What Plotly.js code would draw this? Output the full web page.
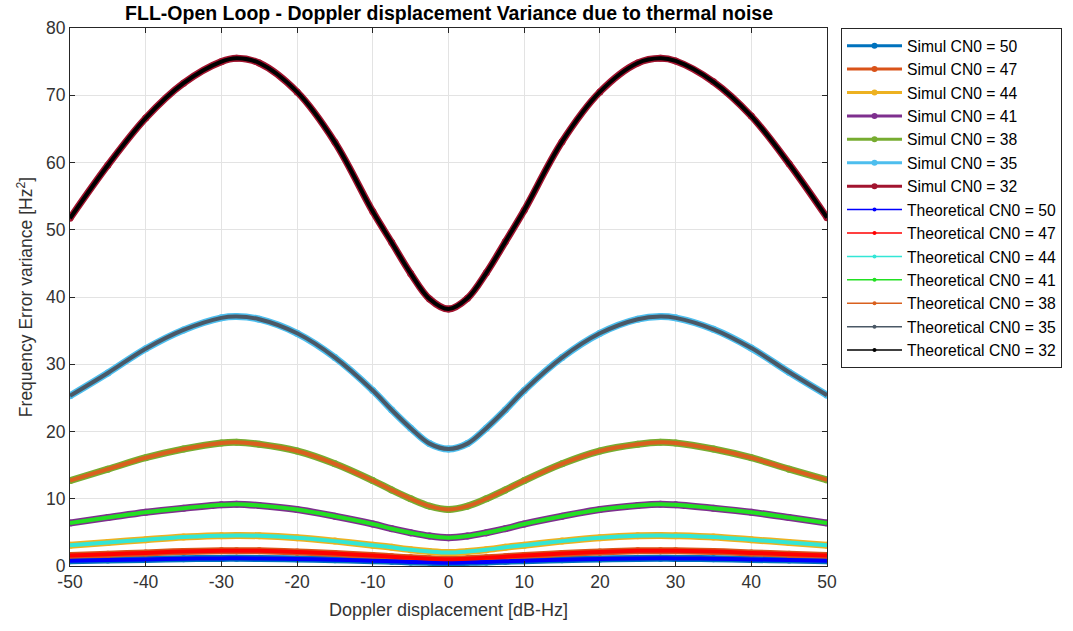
<!DOCTYPE html>
<html>
<head>
<meta charset="utf-8">
<script src="https://cdn.plot.ly/plotly-3.0.1.min.js"></script>
<style>html,body{margin:0;padding:0;background:#fff;}#chart{width:1073px;height:631px;}</style>
</head>
<body>
<div id="chart"></div>
<script>
// Doppler displacement [dB-Hz]
const doppler = [-50,-45,-40,-35,-30,-28,-25,-20,-15,-10,-7.5,-5,-2.5,0,2.5,5,7.5,10,15,20,25,28,30,35,40,45,50];
// Frequency error variance [Hz^2], per CN0
const var32 = [51.7,59.6,66.6,71.8,75.0,75.5,74.8,70.5,63.0,52.7,48.1,43.5,39.7,38.2,39.8,43.6,48.2,52.9,63.1,70.5,74.8,75.5,75.1,72.0,66.9,59.8,51.8];
const var35 = [25.3,28.7,32.3,35.1,36.9,37.1,36.7,34.6,31.0,26.1,23.2,20.5,18.2,17.4,18.2,20.5,23.2,26.1,31.0,34.6,36.7,37.1,36.9,35.2,32.4,28.8,25.4];
const var38 = [12.7,14.4,16.1,17.4,18.3,18.4,18.1,17.1,15.2,12.7,11.3,10.0,8.9,8.4,8.9,10.0,11.3,12.7,15.2,17.1,18.1,18.4,18.3,17.4,16.1,14.4,12.8];
const var41 = [6.4,7.2,8.0,8.6,9.1,9.2,9.0,8.4,7.4,6.25,5.55,4.95,4.45,4.2,4.45,4.95,5.55,6.25,7.4,8.4,9.0,9.2,9.1,8.6,8.0,7.2,6.4];
const var44 = [3.1,3.5,3.9,4.3,4.5,4.55,4.5,4.2,3.7,3.1,2.78,2.42,2.15,2.0,2.15,2.42,2.78,3.1,3.7,4.2,4.5,4.55,4.5,4.3,3.9,3.5,3.1];
const var47 = [1.55,1.75,1.95,2.15,2.25,2.28,2.25,2.1,1.85,1.56,1.39,1.21,1.07,1.0,1.07,1.21,1.39,1.56,1.85,2.1,2.25,2.28,2.25,2.15,1.95,1.75,1.55];
const var50 = [0.78,0.88,0.98,1.08,1.13,1.14,1.12,1.05,0.93,0.78,0.7,0.61,0.54,0.5,0.54,0.61,0.7,0.78,0.93,1.05,1.12,1.14,1.13,1.08,0.98,0.88,0.78];

const xTickVals = [-50,-40,-30,-20,-10,0,10,20,30,40,50];
const xTickText = ['-50','-40','-30','-20','-10','0','10','20','30','40','50'];
const yTickVals = [0,10,20,30,40,50,60,70,80];

const cn0 = [50,47,44,41,38,35,32];
const series = [var50,var47,var44,var41,var38,var35,var32];
const simNames = cn0.map(c => 'Simul CN0 = ' + c);
const theoNames = cn0.map(c => 'Theoretical CN0 = ' + c);
const simColors = ['#0072BD','#D95319','#EDB120','#7E2F8E','#77AC30','#4DBEEE','#A2142F'];
const theoColors = ['#0000FF','#FF0000','#33E6D6','#22E022','#D9601E','#4A5866','#000000'];

const traces = [];
series.forEach((s, i) => {
  traces.push({x: doppler, y: s, mode: 'lines+markers', type: 'scatter', showlegend: false,
    line: {color: simColors[i], width: 7, shape: 'spline', smoothing: 1},
    marker: {color: simColors[i], size: 7}, hoverinfo: 'skip'});
});
series.forEach((s, i) => {
  traces.push({x: doppler, y: s, mode: 'lines', type: 'scatter', showlegend: false,
    line: {color: theoColors[i], width: 4, shape: 'spline', smoothing: 1}, hoverinfo: 'skip'});
});
series.forEach((s, i) => {
  traces.push({x: [null], y: [null], mode: 'lines+markers', type: 'scatter', name: simNames[i],
    line: {color: simColors[i], width: 3}, marker: {color: simColors[i], size: 6}});
});
series.forEach((s, i) => {
  traces.push({x: [null], y: [null], mode: 'lines+markers', type: 'scatter', name: theoNames[i],
    line: {color: theoColors[i], width: 1.5}, marker: {color: theoColors[i], size: 4}});
});

const fam = 'Liberation Sans, Arial, sans-serif';
const axisCommon = {
  showgrid: true, gridcolor: '#e3e3e3', gridwidth: 1,
  showline: true, linecolor: '#262626', linewidth: 1, mirror: 'ticks',
  ticks: 'inside', ticklen: 5, tickcolor: '#262626',
  zeroline: false,
  tickfont: {family: fam, size: 17.5, color: '#333333'}
};

const layout = {
  width: 1073, height: 631,
  paper_bgcolor: '#ffffff', plot_bgcolor: '#ffffff',
  margin: {l: 70, r: 246, t: 28, b: 65, autoexpand: false},
  font: {family: fam, color: '#262626'},
  title: {text: '<b>FLL-Open Loop - Doppler displacement Variance due to thermal noise</b>',
    font: {size: 19.5, color: '#000000'}, x: 0.4185, xanchor: 'center', y: 0.99, yanchor: 'top'},
  xaxis: Object.assign({}, axisCommon, {range: [-50, 50], tickmode: 'array', tickvals: xTickVals, ticktext: xTickText,
    title: {text: 'Doppler displacement [dB-Hz]', font: {size: 18, color: '#333333'}, standoff: 12}}),
  yaxis: Object.assign({}, axisCommon, {range: [0, 80], tickmode: 'array', tickvals: yTickVals,
    title: {text: 'Frequency Error variance [Hz<sup>2</sup>]', font: {size: 17.5, color: '#333333'}, standoff: 8}}),
  showlegend: true,
  legend: {x: 1.0185, xanchor: 'left', y: 1, yanchor: 'top', bgcolor: '#ffffff',
    bordercolor: '#262626', borderwidth: 1, font: {size: 15.7, color: '#000000'},
    itemwidth: 55, tracegroupgap: 0}
};

Plotly.newPlot('chart', traces, layout, {displayModeBar: false, staticPlot: true});
</script>
</body>
</html>
